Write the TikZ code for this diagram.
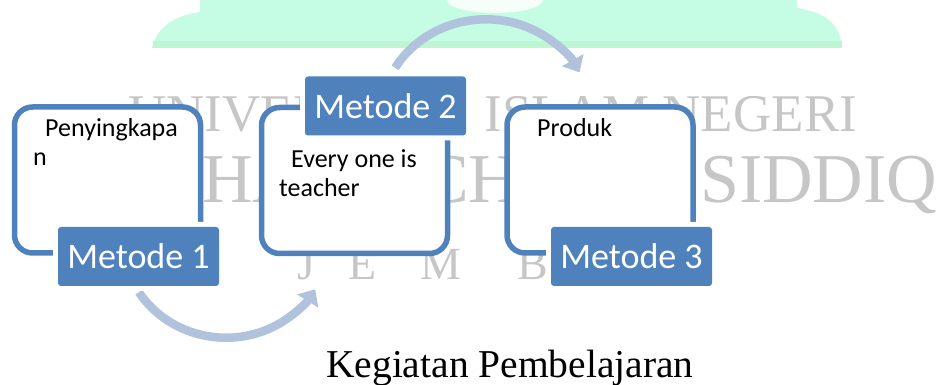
\documentclass[tikz,border=0pt]{standalone}
\usepackage{fontspec}
\setmainfont{Liberation Serif}
\newfontfamily\calibri{Carlito}
\usetikzlibrary{arrows.meta,calc}

\definecolor{smartblue}{HTML}{4F81BD}
\definecolor{arrowblue}{HTML}{B1C2DD}
\definecolor{mint}{HTML}{C4FDE3}
\definecolor{mintdark}{HTML}{BEF6D4}
\definecolor{wmgray}{HTML}{C6C6C6}

\pgfdeclarelayer{back}
\pgfsetlayers{back,main}

\tikzset{
  panel/.style={draw=smartblue, line width=5.5pt, fill=white, rounded corners=18pt,
    minimum width=186pt, minimum height=146pt, inner sep=0pt},
  tab/.style={fill=smartblue, rounded corners=3pt, minimum width=161pt, minimum height=59pt,
    inner sep=0pt, text=white, font=\calibri\fontsize{36}{36}\selectfont,
    preaction={draw=white, line width=10pt}},
  note/.style={font=\calibri\fontsize{26}{26}\selectfont, align=left, inner sep=0pt},
  wm/.style={text=wmgray, inner sep=0pt, anchor=base west},
  cyclearrow/.style={draw=arrowblue, line width=8.5pt, -{Triangle[length=14pt,width=24pt]}},
}

\begin{document}
\begin{tikzpicture}[x=1pt,y=1pt]
\useasboundingbox (0,0) rectangle (938,385);

% boxes with their labels
\node[panel] (box1) at (107.5,205) {};
\node[panel] (box2) at (354.5,204.5) {};
\node[panel] (box3) at (600,205) {};

\node[tab] (tab1) at (138.5,128.5) {Metode 1};
\node[tab] (tab2) at (385.5,279) {Metode 2};
\node[tab] (tab3) at (631.5,128.5) {Metode 3};

\node[note, anchor=north west] (t1) at (33,267) {\hspace*{12pt}Penyingkapa\\[3pt]n};
\node[note, anchor=north west] (t2) at (279,235.5) {\hspace*{12pt}Every one is\\[3pt]teacher};
\node[note, anchor=base west] (t3) at (537,248) {Produk};

\node[anchor=base west, inner sep=0pt, font=\fontsize{39.5}{40}\selectfont] (cap) at (326,7) {Kegiatan Pembelajaran};

\begin{pgfonlayer}{back}
  % mint header band
  \fill[mint] (152,337) .. controls (156,356) and (172,369) .. (200,373) -- (200,385)
    -- (797,385) -- (797,377) .. controls (828,372) and (840,360) .. (842,337) -- cycle;
  \fill[mintdark] (152.5,337) rectangle (842,344);
  \fill[white, opacity=0.85] (495,385) ellipse [x radius=48pt, y radius=13pt];

  % watermark lettering
  \node[wm, font=\fontsize{53}{53}\selectfont] (wm1) at (128,253) {UNIVERSITAS ISLAM NEGERI};
  \node[wm, font=\fontsize{70}{70}\selectfont] (wm2) at (37,182) {KIAI HAJI ACHMAD SIDDIQ};
  \foreach \ch/\px [count=\i] in {J/297,E/348,M/420,B/517,E/600,R/660}
    \node[wm, font=\fontsize{46}{46}\selectfont] (wm3-\i) at (\px,105) {\ch};

  % cycle arrows
  \coordinate (a1) at ($(tab1.south)+(0.3,-6)$);
  \coordinate (a2) at ($(tab2.north)+(9.6,8.5)$);
  \draw[cyclearrow] (a1) arc[start angle=213, end angle=329, x radius=104pt, y radius=100pt];
  \draw[cyclearrow] (a2) arc[start angle=149, end angle=28, x radius=106pt, y radius=100pt];
\end{pgfonlayer}
\end{tikzpicture}
\end{document}
